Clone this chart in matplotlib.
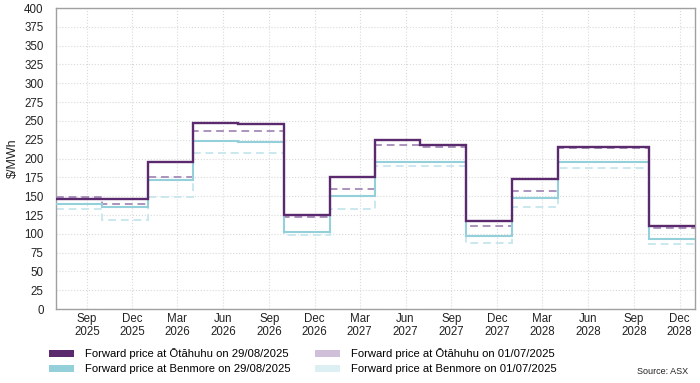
import datetime as dt
import numpy as np
import matplotlib
matplotlib.use("Agg")
import matplotlib.pyplot as plt
import matplotlib.dates as mdates
from matplotlib.patches import Patch

plt.rcParams['font.family'] = ['Liberation Sans', 'DejaVu Sans']

# quarters Q3 2025 .. Q4 2028 (start dates), plus the end of the last quarter
quarter_starts = [dt.date(2025, 7, 1), dt.date(2025, 10, 1),
                  dt.date(2026, 1, 1), dt.date(2026, 4, 1), dt.date(2026, 7, 1), dt.date(2026, 10, 1),
                  dt.date(2027, 1, 1), dt.date(2027, 4, 1), dt.date(2027, 7, 1), dt.date(2027, 10, 1),
                  dt.date(2028, 1, 1), dt.date(2028, 4, 1), dt.date(2028, 7, 1), dt.date(2028, 10, 1)]
period_end = dt.date(2029, 1, 1)

# $/MWh
otahuhu_aug = [146, 146, 195, 247, 246, 124.5, 176, 224, 218, 117.5, 173, 215.5, 215, 110]
otahuhu_jul = [149.5, 139.5, 175.5, 237, 236, 122.5, 160, 218.5, 215.5, 110, 157.5, 214, 214, 108]
benmore_aug = [140, 136, 171.5, 223.5, 222, 102, 150, 195.5, 196, 96.5, 147, 195, 195, 92.5]
benmore_jul = [133, 118, 148.5, 207, 207, 98.5, 133, 190.5, 189.5, 88, 136, 188, 187, 86]

tick_dates = [dt.date(2025, 9, 1), dt.date(2025, 12, 1), dt.date(2026, 3, 1), dt.date(2026, 6, 1),
              dt.date(2026, 9, 1), dt.date(2026, 12, 1), dt.date(2027, 3, 1), dt.date(2027, 6, 1),
              dt.date(2027, 9, 1), dt.date(2027, 12, 1), dt.date(2028, 3, 1), dt.date(2028, 6, 1),
              dt.date(2028, 9, 1), dt.date(2028, 12, 1)]

labels = ['Forward price at Ōtāhuhu on 29/08/2025',
          'Forward price at Benmore on 29/08/2025',
          'Forward price at Ōtāhuhu on 01/07/2025',
          'Forward price at Benmore on 01/07/2025']

c_ota = '#5b2a6e'
c_ota_old = '#ab93bc'
c_ben = '#93d0da'
c_ben_old = '#c9e8ee'

edges = mdates.date2num(quarter_starts + [period_end])

fig = plt.figure(figsize=(7, 3.83), dpi=100)
ax = fig.add_axes([0.08, 0.193, 0.913, 0.786])

ax.stairs(benmore_jul, edges, color=c_ben_old, lw=1.4, ls=(0, (4, 2.5)), baseline=None, zorder=2)
ax.stairs(otahuhu_jul, edges, color=c_ota_old, lw=1.4, ls=(0, (4, 2.5)), baseline=None, zorder=3)
ax.stairs(benmore_aug, edges, color=c_ben, lw=1.5, baseline=None, zorder=4)
ax.stairs(otahuhu_aug, edges, color=c_ota, lw=1.7, baseline=None, zorder=5)

ax.set_xlim(edges[0], edges[-1])
ax.set_ylim(0, 400)
ax.set_yticks(np.arange(0, 401, 25))
ax.set_xticks(mdates.date2num(tick_dates))
ax.set_xticklabels([d.strftime('%b\n%Y') for d in tick_dates], linespacing=1.1)
ax.tick_params(length=0, labelsize=8.3, colors='#222222')
ax.tick_params(axis='y', pad=9)
ax.tick_params(axis='x', pad=3)
ax.set_ylabel('$/MWh', fontsize=9, color='#222222', labelpad=4)

ax.grid(True, color='#d9d9d9', ls=':', lw=0.8)
ax.set_axisbelow(True)
for s in ax.spines.values():
    s.set_color('#a0a0a0')
    s.set_linewidth(1)

handles = [Patch(facecolor=c_ota, edgecolor='none'),
           Patch(facecolor=c_ben, edgecolor='none'),
           Patch(facecolor='#cfbfd8', edgecolor='none'),
           Patch(facecolor='#dcf0f3', edgecolor='none')]
fig.legend(handles, labels, ncol=2, loc='upper left', bbox_to_anchor=(0.062, 0.105),
           frameon=False, fontsize=8.1, handlelength=2.2, handleheight=0.65,
           handletextpad=1.0, columnspacing=2.2, labelspacing=0.45, borderpad=0)

fig.text(0.983, 0.017, 'Source: ASX', ha='right', va='bottom', fontsize=6.5, color='#222222')

fig.savefig('out.png', dpi=100)
